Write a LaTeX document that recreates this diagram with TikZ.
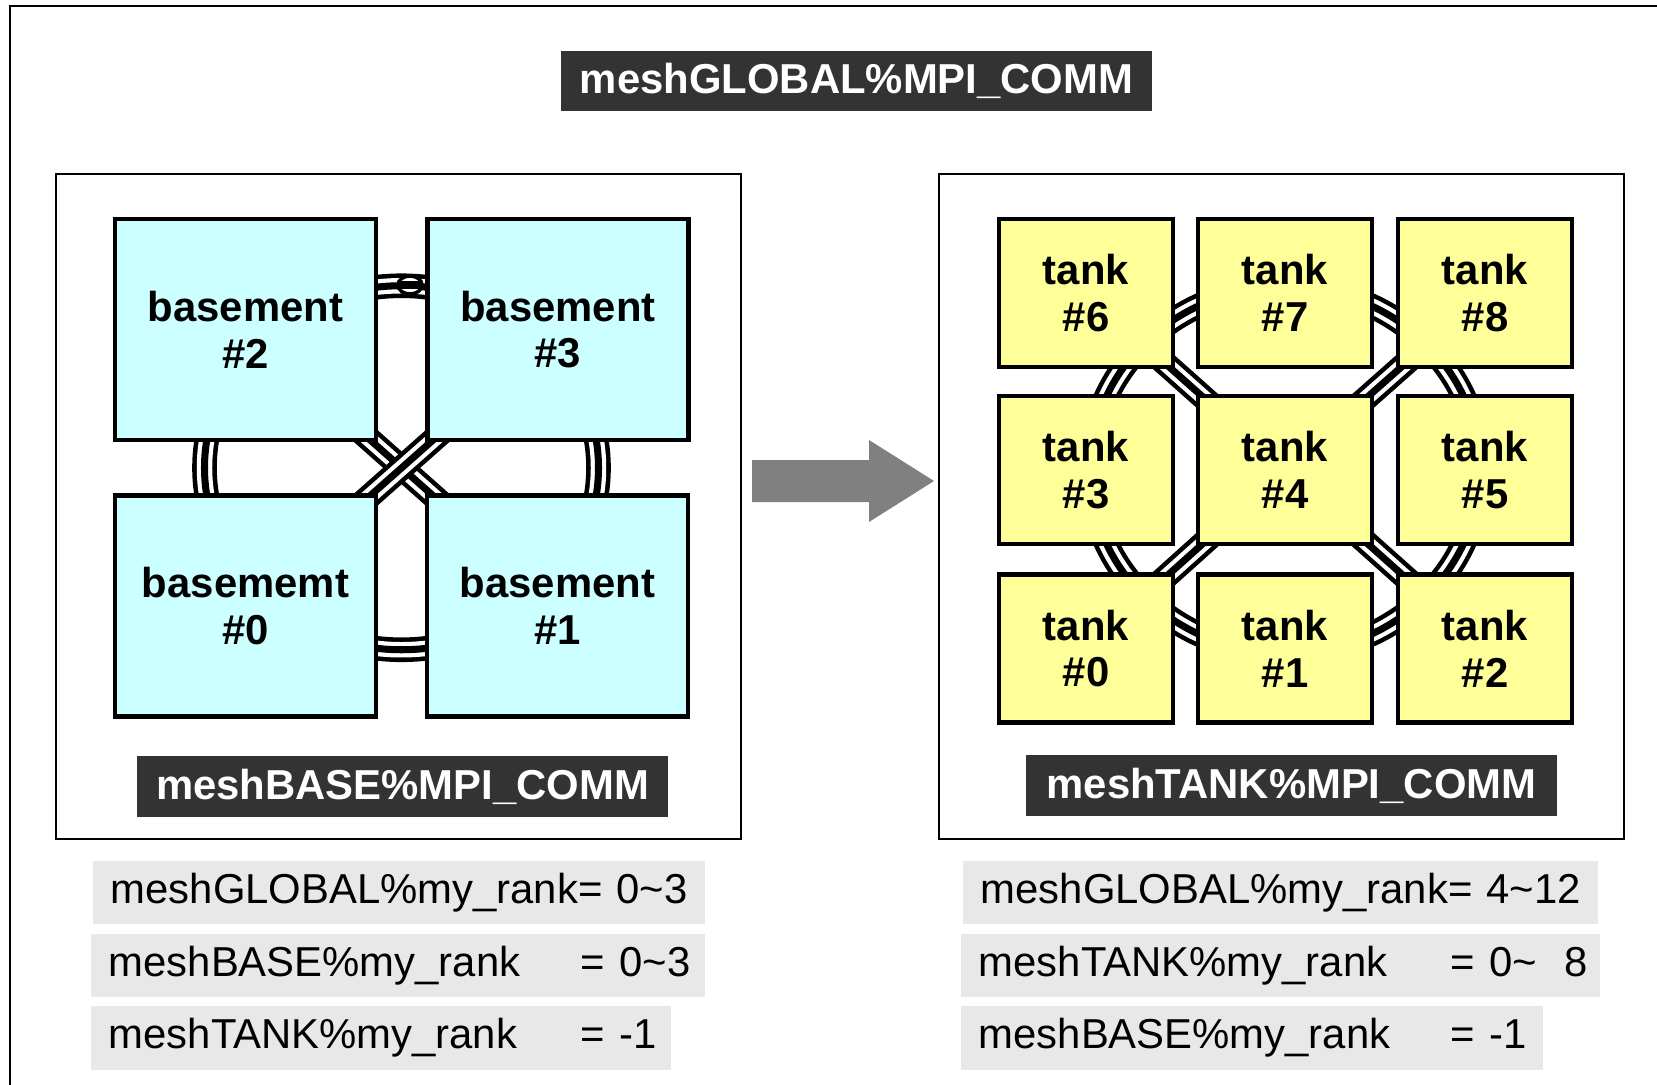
\documentclass[tikz,border=0pt]{standalone}
\usepackage{fontspec}
\setmainfont{Liberation Sans}
\usetikzlibrary{backgrounds,calc}
\definecolor{basecyan}{HTML}{CCFFFF}
\definecolor{tankyellow}{HTML}{FFFF99}
\definecolor{labelgray}{HTML}{333333}
\definecolor{rowgray}{HTML}{E8E8E8}
\definecolor{arrowgray}{HTML}{808080}
\tikzset{
  box/.style={draw=black, line width=1.2pt, align=center, font=\fontsize{11.9}{13.3}\selectfont\bfseries},
  basebox/.style={box, fill=basecyan, minimum width=2.61cm, minimum height=2.21cm},
  tankbox/.style={box, fill=tankyellow, minimum width=1.74cm, minimum height=1.48cm},
  commlabel/.style={fill=labelgray, text=white, font=\fontsize{11.9}{14}\selectfont\bfseries, minimum height=0.6cm},
  rankrow/.style={fill=rowgray, anchor=west, minimum height=0.63cm, inner xsep=0.18cm, align=left, font=\fontsize{11.9}{14}\selectfont},
  link/.style={draw=black, line width=7pt, postaction={draw=white, line width=4.4pt}, postaction={draw=black, line width=2pt}},
}
\begin{document}
\begin{tikzpicture}[x=0.01cm, y=-0.01cm]
  \useasboundingbox (0,0) rectangle (1657,1085);
  % Outer frame
  \draw[line width=0.6pt] (10,1085) -- (10,6) -- (1657,6);

  % Global communicator
  \node[commlabel, minimum width=5.91cm] (global) at (856.5,81) {meshGLOBAL\%MPI\_COMM};

  % Panels
  \draw[line width=0.5pt] (56,174) rectangle (741,839);
  \draw[line width=0.5pt] (939,174) rectangle (1624,839);

  % Basement
  \node[basebox] (b2) at (245.5,329.5) {basement\\\#2};
  \node[basebox] (b3) at (558,329.5) {basement\\\#3};
  \node[basebox] (b0) at (245.5,606) {basememt\\\#0};
  \node[basebox] (b1) at (557.5,606) {basement\\\#1};
  \node[commlabel, minimum width=5.31cm] (baselabel) at (402.5,786.5) {meshBASE\%MPI\_COMM};

  % Tank
  \node[tankbox] (t6) at (1086,293) {tank\\\#6};
  \node[tankbox] (t7) at (1285,293) {tank\\\#7};
  \node[tankbox] (t8) at (1485,293) {tank\\\#8};
  \node[tankbox] (t3) at (1086,470) {tank\\\#3};
  \node[tankbox] (t4) at (1285,470) {tank\\\#4};
  \node[tankbox] (t5) at (1485,470) {tank\\\#5};
  \node[tankbox] (t0) at (1086,648.5) {tank\\\#0};
  \node[tankbox] (t1) at (1285,648.5) {tank\\\#1};
  \node[tankbox] (t2) at (1485,648.5) {tank\\\#2};
  \node[commlabel, minimum width=5.31cm] (tanklabel) at (1291.5,785.5) {meshTANK\%MPI\_COMM};

  % Communication links
  \begin{pgfonlayer}{background}
    \draw[link] ($(b2.center)!0.5!(b1.center)$) ellipse [x radius=197, y radius=182];
    \draw[link] (b2.center) -- (b1.center);
    \draw[link] (b3.center) -- (b0.center);
    \draw[fill=white, line width=1pt] (410,285) ellipse [x radius=12, y radius=9];
    \draw[line width=2pt] (398,285) -- (422,285);
    \draw[link] (t4.center) ellipse [x radius=195, y radius=183];
    \draw[link] (t4.center) -- (t6.center);
    \draw[link] (t4.center) -- (t8.center);
    \draw[link] (t4.center) -- (t0.center);
    \draw[link] (t4.center) -- (t2.center);
  \end{pgfonlayer}

  % Arrow
  \fill[arrowgray] (752,460) -- (869,460) -- (869,440) -- (934,481) -- (869,522) -- (869,502) -- (752,502) -- cycle;

  % Ranks
  \node[rankrow, text width=5.76cm] (lglobal) at (92,892.5) {\mbox{meshGLOBAL\%my\_rank= 0\textasciitilde3}};
  \node[rankrow, text width=5.78cm] (lbase) at (90,965.5) {\mbox{\makebox[4.72cm][l]{meshBASE\%my\_rank}= 0\textasciitilde3}};
  \node[rankrow, text width=5.44cm] (ltank) at (90,1038) {\mbox{\makebox[4.72cm][l]{meshTANK\%my\_rank}= -1}};
  \node[rankrow, text width=5.99cm] (rglobal) at (962,892.5) {\mbox{meshGLOBAL\%my\_rank= 4\textasciitilde12}};
  \node[rankrow, text width=6.03cm] (rtank) at (960,965.5) {\mbox{\makebox[4.72cm][l]{meshTANK\%my\_rank}= 0\textasciitilde\ \ 8}};
  \node[rankrow, text width=5.46cm] (rbase) at (960,1038) {\mbox{\makebox[4.72cm][l]{meshBASE\%my\_rank}= -1}};
\end{tikzpicture}
\end{document}
